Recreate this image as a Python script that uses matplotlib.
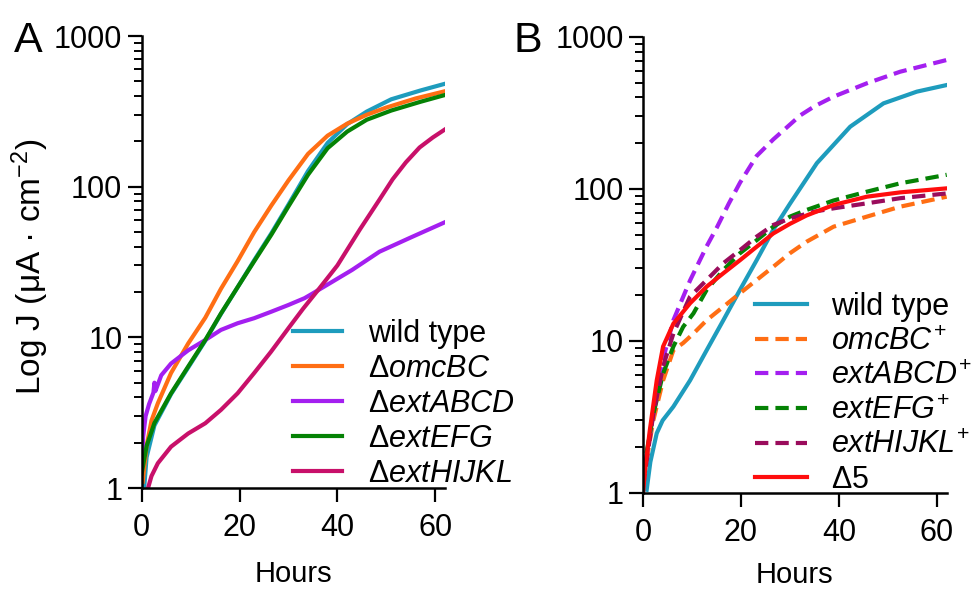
import matplotlib
matplotlib.use("Agg")
import matplotlib.pyplot as plt
from matplotlib.ticker import LogLocator, NullFormatter

plt.rcParams['font.family'] = ['Liberation Sans', 'DejaVu Sans']
plt.rcParams['mathtext.fontset'] = 'custom'
plt.rcParams['mathtext.rm'] = 'Liberation Sans'
plt.rcParams['mathtext.it'] = 'Liberation Sans:italic'
plt.rcParams['mathtext.sf'] = 'Liberation Sans'

# ---------------- Panel A data ----------------
wt_A_t = [0.5, 1, 2.6, 6, 9.5, 13, 16.2, 19.6, 23, 26.5, 30, 34, 38, 42, 46, 51, 57, 62]
wt_A_v = [1.0, 1.6, 2.6, 4.2, 6.3, 9.5, 14.3, 21.5, 32.5, 49, 76, 127, 195, 260, 315, 380, 435, 482]

omc_A_t = [0.2, 1, 2, 3.3, 6, 9.5, 13, 16.2, 19.6, 23, 26.5, 30, 34, 38, 42, 46, 50, 56, 62]
omc_A_v = [1.1, 1.9, 2.8, 3.65, 5.8, 9.1, 13.5, 21, 32, 50, 75, 110, 165, 218, 262, 300, 335, 385, 430]

abcd_A_t = [0, 0.3, 0.8, 1.5, 2.4, 2.6, 2.8, 4, 6, 9.5, 13, 16.2, 19.6, 23, 26.5, 30, 33.3, 35, 38.4, 43, 48.6, 55, 62.2]
abcd_A_v = [1.3, 2.2, 3.0, 3.6, 4.3, 5.0, 4.4, 5.6, 6.7, 8.2, 9.6, 11.2, 12.4, 13.4, 14.8, 16.4, 18.2, 19.6, 22.8, 28, 37, 46, 58.5]

efg_A_t = [0, 1, 2.6, 6, 9.5, 13, 16.2, 19.6, 23, 26.5, 30, 34, 38, 42, 46, 51, 57, 62]
efg_A_v = [1.25, 1.9, 2.7, 4.25, 6.4, 9.6, 14.4, 21.5, 32, 48, 74, 120, 180, 232, 278, 320, 366, 406]

hijkl_A_t = [1.3, 2, 3.3, 6, 9.5, 13, 16.2, 19.6, 23, 26.4, 30, 33, 36, 40, 44.6, 48.6, 51.3, 54, 56.8, 59.5, 62]
hijkl_A_v = [1.0, 1.2, 1.46, 1.88, 2.3, 2.69, 3.3, 4.25, 5.8, 8.0, 11.5, 15.5, 20.5, 30, 52, 82, 112, 145, 182, 212, 240]

# ---------------- Panel B data ----------------
wt_B_t = [0.75, 1.5, 2.8, 4, 6.2, 9.6, 13, 16.4, 19.8, 23.2, 26.6, 30, 35.5, 42.3, 49.1, 55.9, 62]
wt_B_v = [1.05, 1.6, 2.47, 3.0, 3.7, 5.5, 8.7, 13.7, 21.7, 34, 54, 80, 148, 257, 366, 437, 483]

omc_B_t = [0, 2.1, 4.1, 6.2, 8.2, 10.3, 13, 16.4, 19.8, 23.2, 26.6, 30, 33.4, 38.9, 45.7, 52.5, 62]
omc_B_v = [1.2, 3.0, 5.5, 8.7, 9.7, 11.2, 13.7, 16.8, 20.6, 25.2, 30.8, 37.8, 45, 56.5, 65.8, 76.5, 89]

abcd_B_t = [0, 1, 2.8, 4.5, 6.2, 9.6, 13, 15.1, 17.5, 19.8, 23.2, 26.6, 29.4, 32.1, 35, 38.9, 45.7, 52.5, 62]
abcd_B_v = [1.2, 2.0, 4.5, 8.5, 13.7, 25, 42, 56, 80, 110, 165, 212, 255, 305, 350, 405, 496, 591, 706]

efg_B_t = [0, 2.1, 4.1, 6.2, 8.2, 10.3, 13, 16.4, 19.8, 23.2, 26.6, 30, 33.4, 38.9, 45.7, 52.5, 62]
efg_B_v = [1.35, 3.3, 6.1, 9.2, 12.4, 15.2, 21.7, 29.3, 37.8, 46, 56.5, 65.8, 72.8, 84, 96, 109, 124]

hijkl_B_t = [0, 2.1, 4.1, 6.2, 9.6, 13, 16.4, 19.8, 23.2, 26.6, 30, 35, 38.9, 45.7, 52.5, 62]
hijkl_B_v = [1.1, 3.3, 6.8, 11.2, 19.6, 25.2, 32.5, 39.6, 48.6, 58, 64, 71, 74.6, 80.5, 87, 93.5]

d5_B_t = [0, 0.5, 1.4, 2.8, 4.1, 6.2, 9.6, 13, 16.4, 19.8, 23.2, 26.6, 30, 33.4, 38.9, 45.7, 52.5, 62]
d5_B_v = [1.0, 1.5, 2.6, 5.5, 9.2, 13, 17.7, 22.8, 27.9, 34, 41.7, 51, 59, 67, 78.5, 89, 95, 101]

labels_A = ["wild type", r"Δ$\mathit{omcBC}$", r"Δ$\mathit{extABCD}$",
            r"Δ$\mathit{extEFG}$", r"Δ$\mathit{extHIJKL}$"]
labels_B = ["wild type", r"$\mathit{omcBC}^{+}$", r"$\mathit{extABCD}^{+}$",
            r"$\mathit{extEFG}^{+}$", r"$\mathit{extHIJKL}^{+}$", r"Δ$\mathit{5}$"]
y_ticks = [1, 10, 100, 1000]
y_ticklabels = ["1", "10", "100", "1000"]
x_ticks = [0, 20, 40, 60]

c_teal = '#1e9cbd'
c_orange = '#ff6e14'
c_purple = '#a41ff0'
c_green = '#058205'
c_crimson = '#c8106a'
c_maroon = '#9a0c5c'
c_red = '#ff0d0d'

LW = 3.0
DASH = (3.2, 1.7)
FS = 22

fig = plt.figure(figsize=(9.75, 5.89), dpi=100)
W, H = 975, 589
axA = fig.add_axes([141.7 / W, 1 - 488 / H, (445 - 141.7) / W, (488 - 36) / H])
axB = fig.add_axes([643 / W, 1 - 493 / H, (946.7 - 643) / W, (493 - 37) / H])


def style(ax, base_px, top_px, bottom_px):
    ax.set_yscale('log')
    ax.set_ylim(1, 1000)
    ax.set_xlim(0, 62)
    ax.set_yticks(y_ticks)
    ax.set_yticklabels(y_ticklabels)
    ax.yaxis.set_minor_locator(LogLocator(base=10, subs=range(2, 10)))
    ax.yaxis.set_minor_formatter(NullFormatter())
    ax.set_xticks(x_ticks)
    ax.set_xticklabels([str(v) for v in x_ticks])
    for s in ['top', 'right']:
        ax.spines[s].set_visible(False)
    for s in ['left', 'bottom']:
        ax.spines[s].set_linewidth(1.8)
    ax.tick_params(axis='both', which='major', length=10, width=1.6, labelsize=FS, pad=4)
    ax.tick_params(axis='y', which='minor', length=6, width=1.4)
    ax.tick_params(axis='x', which='major', length=10, pad=8)
    ax.set_xlabel("Hours", fontsize=21, va='baseline')
    ax.xaxis.set_label_coords(0.5, (bottom_px - base_px) / (bottom_px - top_px))
    for sp in ax.spines.values():
        sp.set_zorder(5)


style(axA, 582, 36, 488)
style(axB, 583, 37, 493)

axA.plot(wt_A_t, wt_A_v, color=c_teal, lw=LW, label=labels_A[0])
axA.plot(omc_A_t, omc_A_v, color=c_orange, lw=LW, label=labels_A[1])
axA.plot(abcd_A_t, abcd_A_v, color=c_purple, lw=LW, label=labels_A[2])
axA.plot(efg_A_t, efg_A_v, color=c_green, lw=LW, label=labels_A[3])
axA.plot(hijkl_A_t, hijkl_A_v, color=c_crimson, lw=LW, label=labels_A[4])

axB.plot(wt_B_t, wt_B_v, color=c_teal, lw=LW, label=labels_B[0])
axB.plot(omc_B_t, omc_B_v, color=c_orange, lw=LW, ls=(0, DASH), label=labels_B[1])
axB.plot(abcd_B_t, abcd_B_v, color=c_purple, lw=LW, ls=(0, DASH), label=labels_B[2])
axB.plot(efg_B_t, efg_B_v, color=c_green, lw=LW, ls=(0, DASH), label=labels_B[3])
axB.plot(hijkl_B_t, hijkl_B_v, color=c_maroon, lw=LW, ls=(0, DASH), label=labels_B[4])
axB.plot(d5_B_t, d5_B_v, color=c_red, lw=LW, label=labels_B[5])

axA.set_ylabel(r"Log J (μA · cm$^{-2}$)", fontsize=24)
axA.yaxis.set_label_coords((51 - 141.7) / (445 - 141.7), (488 - 267) / (488 - 36))

legA = axA.legend(loc='upper left', bbox_to_anchor=(293 / W, 1 - 319 / H),
                  bbox_transform=fig.transFigure, frameon=False, fontsize=FS,
                  handlelength=1.6, handletextpad=0.85, labelspacing=0.16,
                  borderpad=0, borderaxespad=0)
legB = axB.legend(loc='upper left', bbox_to_anchor=(755 / W, 1 - 292 / H),
                  bbox_transform=fig.transFigure, frameon=False, fontsize=FS,
                  handlelength=1.7, handletextpad=0.8, labelspacing=0.15,
                  borderpad=0, borderaxespad=0)

fig.text(28 / W, 1 - 41 / H, "A", fontsize=31, ha='center', va='center')
fig.text(528 / W, 1 - 41 / H, "B", fontsize=31, ha='center', va='center')

fig.savefig("out.png", dpi=100)
